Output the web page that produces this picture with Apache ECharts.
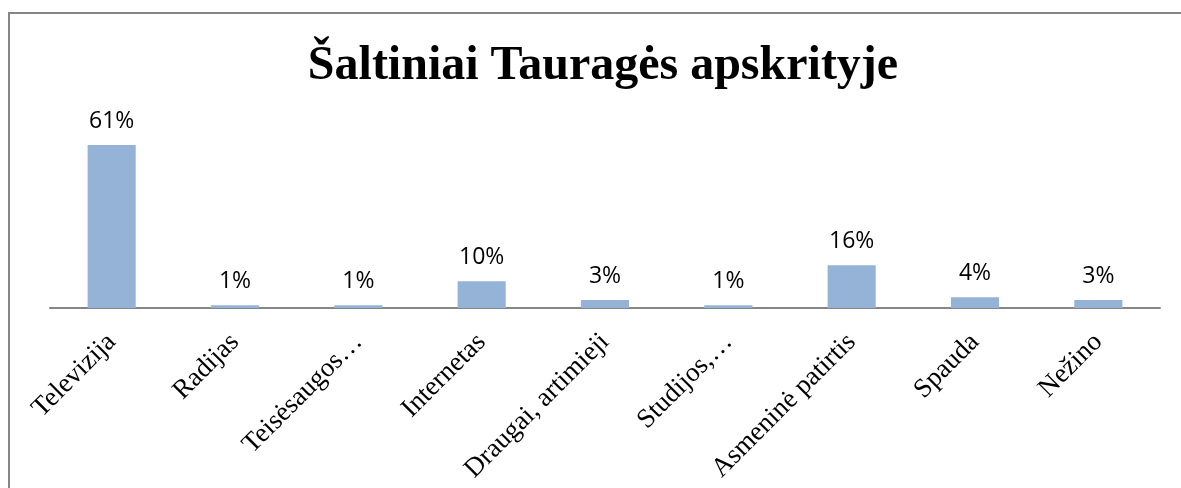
<!DOCTYPE html>
<html>
<head>
<meta charset="utf-8">
<script src="https://cdn.jsdelivr.net/npm/echarts@6/dist/echarts.min.js"></script>
<style>
  html, body { margin: 0; padding: 0; background: #fff; }
  #chart { width: 1181px; height: 488px; }
</style>
</head>
<body>
<div id="chart"></div>
<script>
// šaltiniai (kategorijos) ir procentai
const categories = ['Televizija', 'Radijas', 'Teisėsaugos…', 'Internetas', 'Draugai, artimieji',
  'Studijos,…', 'Asmeninė patirtis', 'Spauda', 'Nežino'];
const values = [61, 1, 1, 10, 3, 1, 16, 4, 3];
const titleText = 'Šaltiniai Tauragės apskrityje';

let chart = echarts.init(document.getElementById('chart'));
chart.setOption({
  animation: false,
  title: {
    text: titleText,
    left: 598,
    textAlign: 'center',
    top: 38,
    textStyle: {
      fontFamily: 'Liberation Serif',
      fontWeight: 'bold',
      fontSize: 48,
      color: '#000'
    }
  },
  // rėmelis aplink diagramą
  graphic: [{
    type: 'rect',
    shape: { x: 9, y: 13, width: 1200, height: 500 },
    style: { fill: 'none', stroke: '#868686', lineWidth: 2 },
    silent: true
  }],
  grid: {
    left: 50,
    right: 21,
    top: 121,
    bottom: 180
  },
  xAxis: {
    type: 'category',
    data: categories,
    axisLine: { lineStyle: { color: '#868686', width: 2 } },
    axisTick: { show: false },
    axisLabel: {
      rotate: 45,
      interval: 0,
      margin: 30,
      fontFamily: 'Liberation Serif',
      fontSize: 27,
      color: '#000'
    }
  },
  yAxis: {
    type: 'value',
    min: 0,
    max: 70,
    show: false
  },
  series: [{
    type: 'bar',
    data: values,
    barWidth: '39%',
    itemStyle: { color: '#95B3D7' },
    label: {
      show: true,
      position: 'top',
      distance: 12,
      formatter: '{c}%',
      fontFamily: 'Open Sans',
      fontSize: 23,
      color: '#000'
    }
  }]
});
</script>
</body>
</html>
